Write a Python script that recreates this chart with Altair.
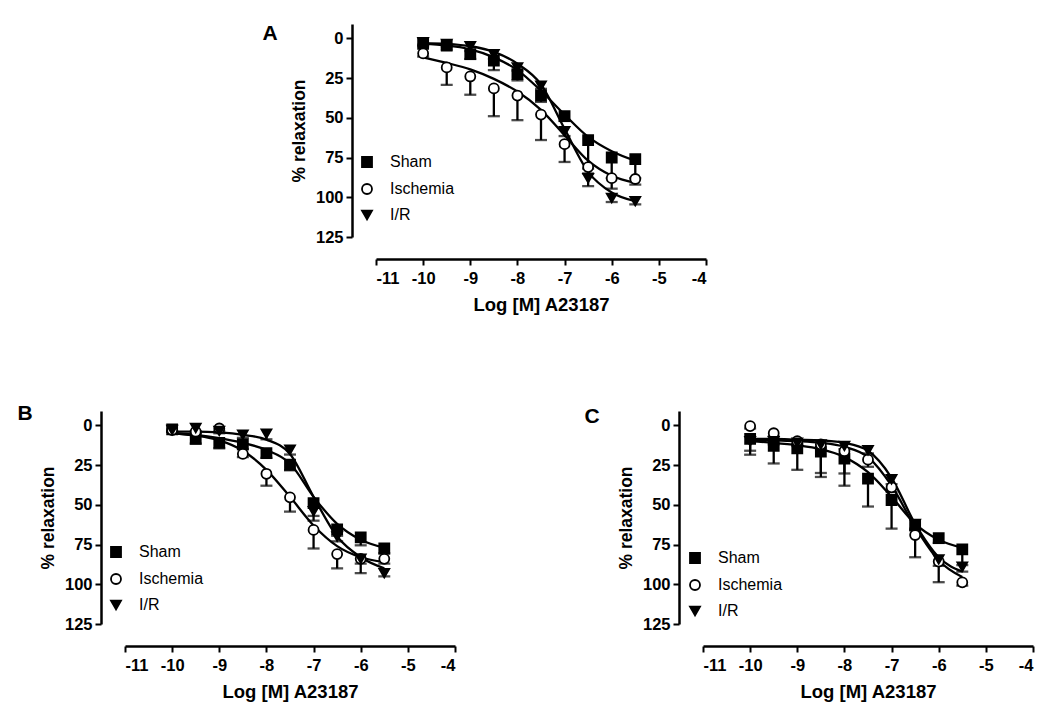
import altair as alt
import pandas as pd

doses = [-10, -9.5, -9, -8.5, -8, -7.5, -7, -6.5, -6, -5.5]
groups = ["Sham", "Ischemia", "I/R"]
x_ticks = [-11, -10, -9, -8, -7, -6, -5, -4]
y_ticks = [0, 25, 50, 75, 100, 125]

# ---- Panel A ----
a_sham = [3.5, 4.6, 10, 14, 22.5, 36, 49, 64, 75, 76]
a_sham_sem = [1.5, 2.5, 3, 6, 4, 4, 3, 18, 13, 12]
a_isch = [9.5, 18.3, 24, 31.5, 36, 48, 66.6, 81, 88, 88.5]
a_isch_sem = [2, 11, 11.5, 17.5, 15.5, 16, 11.2, 4, 6.6, 3.5]
a_ir = [2.5, 3.5, 5, 10, 18.3, 29.8, 58.5, 88, 100.5, 102.5]
a_ir_sem = [1.5, 2, 3, 3, 2, 2, 3, 5, 2.5, 2]
a_sham_fit = [3.5, 4.5, 7, 12, 20, 33, 48, 62, 71, 77]
a_isch_fit = [12, 15.5, 19.5, 25.5, 33.5, 45, 61, 77, 86.5, 91]
a_ir_fit = [3, 3.5, 5, 8.5, 16, 29, 57, 84, 97, 102.5]

# ---- Panel B ----
b_sham = [2.5, 8.5, 11, 12, 17.5, 24.8, 49, 65.5, 70.5, 77.5]
b_sham_sem = [1.5, 3, 3.5, 3, 3, 3.5, 8, 4, 5, 3]
b_isch = [3, 4, 2, 18, 30.5, 45.3, 65.8, 81, 84, 84]
b_isch_sem = [1, 1, 1.5, 2, 7.5, 9, 11.7, 9, 3, 3]
b_ir = [3, 1.7, 3.5, 5.9, 5.3, 15.4, 54, 70, 84, 93]
b_ir_sem = [1, 2, 1.5, 2, 3.5, 3, 6, 3, 9, 2]
b_sham_fit = [5, 6, 8, 11, 15.5, 24, 45, 62, 72, 77]
b_isch_fit = [5, 6.5, 9.5, 16, 28, 45, 63, 76, 83, 86]
b_ir_fit = [4, 4, 4.5, 6, 9, 18, 45, 70, 83, 90]

# ---- Panel C ----
c_sham = [8.5, 13, 14.5, 16.5, 21, 33.6, 47, 63, 71, 78]
c_sham_sem = [10, 11, 13.5, 16, 17, 17.5, 18, 3, 3, 10]
c_isch = [0.5, 5, 10, 12, 16.3, 21.6, 39, 69, 85.7, 98.8]
c_isch_sem = [1.5, 2, 2, 2.5, 14, 4.5, 3, 14, 13, 2]
c_ir = [10, 10, 11, 12, 13, 15.7, 34, 62, 84.4, 89]
c_ir_sem = [6, 2, 2, 18, 2, 2, 3, 3, 4, 3]
c_sham_fit = [10, 11, 12.5, 15, 20, 29.5, 45, 62, 72, 77]
c_isch_fit = [9, 9.5, 10, 11, 13.5, 20, 38, 64, 85, 95.5]
c_ir_fit = [8.5, 8.5, 9, 9.5, 11, 16, 33, 62, 83, 92]

FONT = "Liberation Sans"
W, H = 330, 213


def build_df(means, sems, fits):
    rows = []
    for g, m, s, f in zip(groups, means, sems, fits):
        for d, mv, sv, fv in zip(doses, m, s, f):
            rows.append({"group": g, "dose": d, "mean": mv, "hi": mv + sv, "fit": fv})
    return pd.DataFrame(rows)


def panel(letter, means, sems, fits, lx, ly, letter_xy):
    df = build_df(means, sems, fits)
    xax = alt.Axis(values=x_ticks, title="Log [M] A23187", offset=22, grid=False,
                   labelExpr="'' + datum.value", titleFontSize=18.5)
    yax = alt.Axis(values=y_ticks, title="% relaxation", offset=24, grid=False,
                   titleFontSize=17.5)
    xs = alt.Scale(domain=[-11, -4], nice=False, zero=False)
    ys = alt.Scale(domain=[-9, 125], reverse=True, nice=False, zero=False)
    X = alt.X("dose:Q", scale=xs, axis=xax)
    base = alt.Chart(df)
    lines = base.mark_line(color="black", strokeWidth=2.3, interpolate="monotone").encode(
        x=X, y=alt.Y("fit:Q", scale=ys, axis=yax), detail="group:N")
    rules = base.mark_rule(color="black", strokeWidth=2.3).encode(
        x=X, y=alt.Y("mean:Q", scale=ys, axis=yax), y2="hi:Q")
    caps = base.mark_tick(color="black", thickness=2.3, size=12, orient="horizontal").encode(
        x=X, y=alt.Y("hi:Q", scale=ys, axis=yax))
    leg = alt.Legend(title=None, orient="none", legendX=lx, legendY=ly,
                     symbolStrokeColor="black")
    pts = base.mark_point(strokeWidth=1.8, opacity=1, fillOpacity=1, size=100).encode(
        x=X, y=alt.Y("mean:Q", scale=ys, axis=yax),
        shape=alt.Shape("group:N", scale=alt.Scale(domain=groups, range=["square", "circle", "triangle-down"]), legend=leg),
        fill=alt.Fill("group:N", scale=alt.Scale(domain=groups, range=["black", "white", "black"]), legend=leg),
        stroke=alt.Stroke("group:N", scale=alt.Scale(domain=groups, range=["black", "black", "black"]), legend=leg),
    )
    lab = alt.Chart(pd.DataFrame({"t": [letter]})).mark_text(
        font=FONT, fontSize=21, fontWeight="bold", color="black", align="center", baseline="middle"
    ).encode(text="t:N", x=alt.value(letter_xy[0]), y=alt.value(letter_xy[1]))
    return alt.layer(lines, rules, caps, pts, lab).properties(width=W, height=H).resolve_scale(
        shape="independent", fill="independent", stroke="independent")


pA = panel("A", [a_sham, a_isch, a_ir], [a_sham_sem, a_isch_sem, a_ir_sem],
           [a_sham_fit, a_isch_fit, a_ir_fit], -17, 130, (-106, 10))
pB = panel("B", [b_sham, b_isch, b_ir], [b_sham_sem, b_isch_sem, b_ir_sem],
           [b_sham_fit, b_isch_fit, b_ir_fit], -17, 133, (-100, 3))
pC = panel("C", [c_sham, c_isch, c_ir], [c_sham_sem, c_isch_sem, c_ir_sem],
           [c_sham_fit, c_isch_fit, c_ir_fit], -16, 139, (-111, 6))

spacer = alt.Chart(pd.DataFrame({"v": [0]})).mark_point(opacity=0).encode(
    x=alt.X("v:Q", axis=None), y=alt.Y("v:Q", axis=None)).properties(width=1, height=1)

res = dict(shape="independent", fill="independent", stroke="independent")
top = alt.hconcat(spacer, pA, spacing=250, bounds="flush").resolve_scale(**res)
bottom = alt.hconcat(pB, pC, spacing=248, bounds="flush").resolve_scale(**res)

chart = alt.vconcat(top, bottom, spacing=387, bounds="flush").resolve_scale(**res).properties(
    padding={"left": 9, "top": 13, "right": 5, "bottom": 5}
).configure_view(
    stroke=None
).configure_axis(
    domainColor="black", domainWidth=2.5, tickColor="black", tickWidth=2, tickSize=6,
    labelFont=FONT, labelFontSize=16.5, labelFontWeight="bold", labelColor="black",
    titleFont=FONT, titleFontWeight="bold", titleColor="black",
    labelPadding=3,
).configure_axisX(titlePadding=9, labelPadding=5).configure_axisY(titlePadding=7).configure_legend(
    labelFont=FONT, labelFontSize=16, labelColor="black", symbolStrokeColor="black",
    symbolSize=100, symbolStrokeWidth=1.8, rowPadding=9, labelOffset=15, padding=0
)

chart.save("out.html", embed_options={"renderer": "svg", "actions": False})
